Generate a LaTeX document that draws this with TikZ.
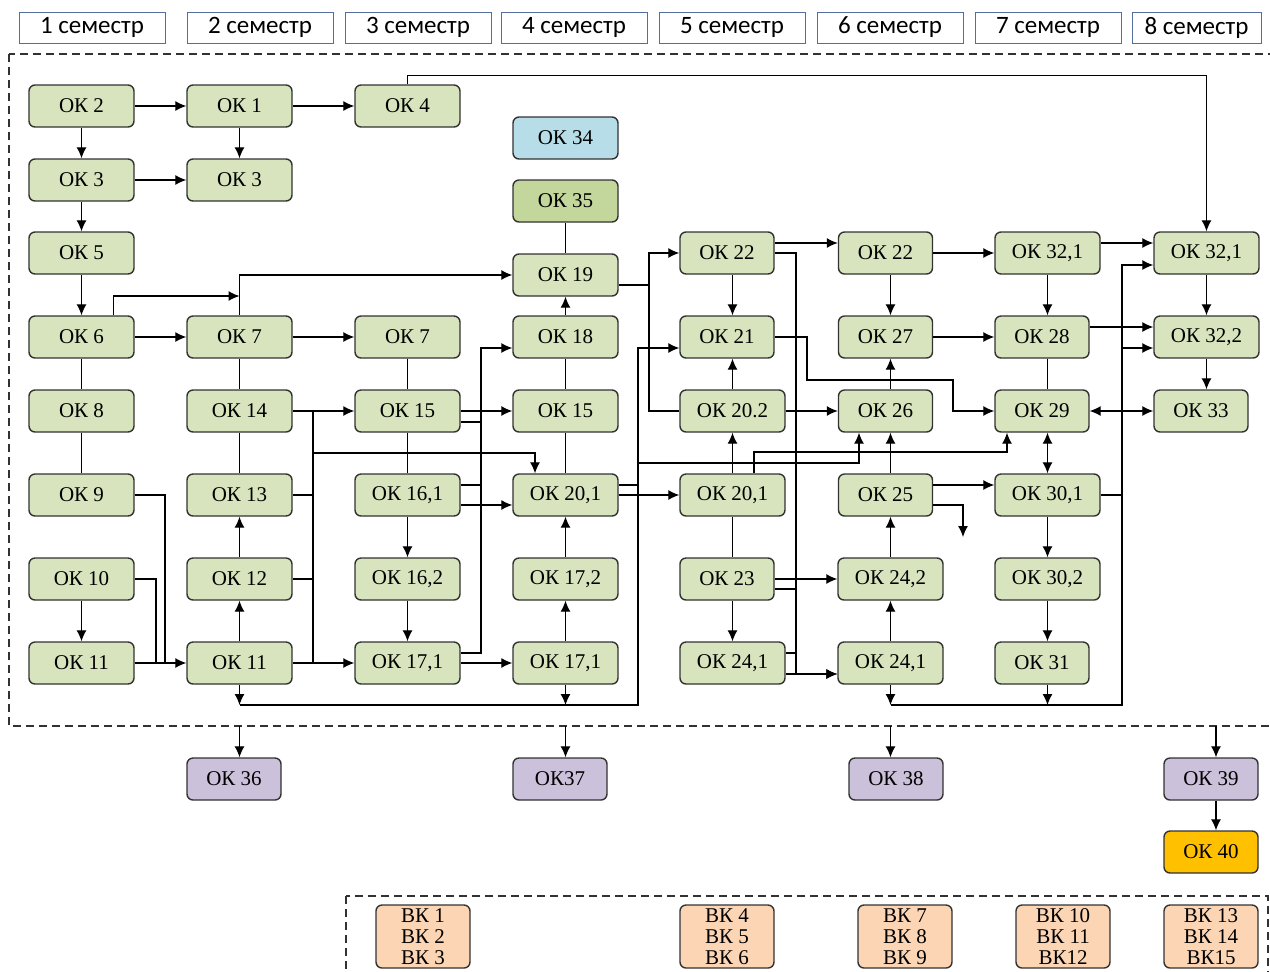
\documentclass[tikz,border=0pt]{standalone}
\usepackage{fontspec}
\usepackage{tikz}
\usetikzlibrary{arrows.meta}
\newfontfamily\okfont{Liberation Serif}
\newfontfamily\semfont{Carlito}
\definecolor{okgreen}{RGB}{215,228,189}
\definecolor{okolive}{RGB}{195,214,155}
\definecolor{okblue}{RGB}{183,222,232}
\definecolor{oklilac}{RGB}{204,193,218}
\definecolor{okorange}{RGB}{255,192,0}
\definecolor{vkpeach}{RGB}{252,213,181}
\definecolor{semblue}{RGB}{84,110,160}
\definecolor{boxline}{RGB}{50,50,50}
\tikzset{
    ok-box/.style = {draw=boxline, fill=okgreen, line width=0.7pt, rectangle, rounded corners=3pt, minimum width=52.5pt, minimum height=21pt, inner sep=0pt, font=\okfont\fontsize{10.5}{12}\selectfont},
    ok-narrow/.style = {ok-box, minimum width=47pt},
    sem-box/.style = {draw=semblue, fill=white, line width=0.5pt, rectangle, minimum width=73pt, minimum height=15.5pt, inner sep=0pt, font=\semfont\fontsize{12.5}{14}\selectfont},
    vk-box/.style = {ok-narrow, fill=vkpeach, minimum height=31.5pt, align=center, font=\okfont\fontsize{10.5}{10.6}\selectfont},
    dash-frame/.style = {draw=boxline, line width=0.6pt, dash pattern=on 4pt off 2.5pt},
}

\begin{document}
\begin{tikzpicture}[x=0.5pt, y=-0.5pt, >={Latex[length=5.5pt,width=5pt]}, line width=0.6pt]
\useasboundingbox (0,0) rectangle (1270,971);

\node [sem-box] (s1) at (92,27.5) {1 семестр};
\node [sem-box] (s2) at (260,27.5) {2 семестр};
\node [sem-box] (s3) at (418,27.5) {3 семестр};
\node [sem-box] (s4) at (574,27.5) {4 семестр};
\node [sem-box] (s5) at (732,27.5) {5 семестр};
\node [sem-box] (s6) at (890,27.5) {6 семестр};
\node [sem-box] (s7) at (1048,27.5) {7 семестр};
\node [sem-box, minimum width=64.5pt] (s8) at (1196.5,27.5) {8 семестр};

\draw [dash-frame] (9,54) rectangle (1290,726);
\draw [dash-frame] (346,896) rectangle (1268,990);
\coordinate (mainS) at (0,726);

% 1 semester
\node [ok-box] (ok2) at (81.5,106) {ОК 2};
\node [ok-box] (ok3a) at (81.5,180) {ОК 3};
\node [ok-box] (ok5) at (81.5,253) {ОК 5};
\node [ok-box] (ok6) at (81.5,337) {ОК 6};
\node [ok-box] (ok8) at (81.5,411) {ОК 8};
\node [ok-box] (ok9) at (81.5,495) {ОК 9};
\node [ok-box] (ok10) at (81.5,579) {ОК 10};
\node [ok-box] (ok11a) at (81.5,663) {ОК 11};
% 2 semester
\node [ok-box] (ok1) at (239.5,106) {ОК 1};
\node [ok-box] (ok3b) at (239.5,180) {ОК 3};
\node [ok-box] (ok7a) at (239.5,337) {ОК 7};
\node [ok-box] (ok14) at (239.5,411) {ОК 14};
\node [ok-box] (ok13) at (239.5,495) {ОК 13};
\node [ok-box] (ok12) at (239.5,579) {ОК 12};
\node [ok-box] (ok11b) at (239.5,663) {ОК 11};
% 3 semester
\node [ok-box] (ok4) at (407.5,106) {ОК 4};
\node [ok-box] (ok7b) at (407.5,337) {ОК 7};
\node [ok-box] (ok15a) at (407.5,411) {ОК 15};
\node [ok-box] (ok161) at (407.5,495) {ОК 16,1};
\node [ok-box] (ok162) at (407.5,579) {ОК 16,2};
\node [ok-box] (ok171a) at (407.5,663) {ОК 17,1};
% 4 semester
\node [ok-box, fill=okblue] (ok34) at (565.5,138) {ОК 34};
\node [ok-box, fill=okolive] (ok35) at (565.5,201) {ОК 35};
\node [ok-box] (ok19) at (565.5,275) {ОК 19};
\node [ok-box] (ok18) at (565.5,337) {ОК 18};
\node [ok-box] (ok15b) at (565.5,411) {ОК 15};
\node [ok-box] (ok201a) at (565.5,495) {ОК 20,1};
\node [ok-box] (ok172) at (565.5,579) {ОК 17,2};
\node [ok-box] (ok171b) at (565.5,663) {ОК 17,1};
% 5 semester
\node [ok-narrow] (ok22a) at (727,253) {ОК 22};
\node [ok-narrow] (ok21) at (727,337) {ОК 21};
\node [ok-box] (ok202) at (732.5,411) {ОК 20.2};
\node [ok-box] (ok201b) at (732.5,495) {ОК 20,1};
\node [ok-narrow] (ok23) at (727,579) {ОК 23};
\node [ok-box] (ok241a) at (732.5,663) {ОК 24,1};
% 6 semester
\node [ok-narrow] (ok22b) at (885.5,253) {ОК 22};
\node [ok-narrow] (ok27) at (885.5,337) {ОК 27};
\node [ok-narrow] (ok26) at (885.5,411) {ОК 26};
\node [ok-narrow] (ok25) at (885.5,495) {ОК 25};
\node [ok-box] (ok242) at (890.5,579) {ОК 24,2};
\node [ok-box] (ok241b) at (890.5,663) {ОК 24,1};
% 7 semester
\node [ok-box] (ok321a) at (1047.5,253) {ОК 32,1};
\node [ok-narrow] (ok28) at (1042,337) {ОК 28};
\node [ok-narrow] (ok29) at (1042,411) {ОК 29};
\node [ok-box] (ok301) at (1047.5,495) {ОК 30,1};
\node [ok-box] (ok302) at (1047.5,579) {ОК 30,2};
\node [ok-narrow] (ok31) at (1042,663) {ОК 31};
% 8 semester
\node [ok-box] (ok321b) at (1206.5,253) {ОК 32,1};
\node [ok-box] (ok322) at (1206.5,337) {ОК 32,2};
\node [ok-narrow] (ok33) at (1201,411) {ОК 33};

\node [ok-narrow, fill=oklilac] (ok36) at (234,779) {ОК 36};
\node [ok-narrow, fill=oklilac] (ok37) at (560,779) {ОК37};
\node [ok-narrow, fill=oklilac] (ok38) at (896,779) {ОК 38};
\node [ok-narrow, fill=oklilac] (ok39) at (1211,779) {ОК 39};
\node [ok-narrow, fill=okorange] (ok40) at (1211,852) {ОК 40};

\node [vk-box] (vk1) at (423,936.5) {ВК 1\\ВК 2\\ВК 3};
\node [vk-box] (vk4) at (727,936.5) {ВК 4\\ВК 5\\ВК 6};
\node [vk-box] (vk7) at (905,936.5) {ВК 7\\ВК 8\\ВК 9};
\node [vk-box] (vk10) at (1063,936.5) {ВК 10\\ВК 11\\ВК12};
\node [vk-box] (vk13) at (1211,936.5) {ВК 13\\ВК 14\\ВК15};

\coordinate (j7) at (239.5,296);
\coordinate (b9) at (165,663);
\coordinate (b10) at (156,663);
\coordinate (busT) at (313,411);
\coordinate (busB) at (313,663);
\coordinate (j453) at (313,453);
\coordinate (b18) at (481,348);
\coordinate (bl) at (239.5,705);
\coordinate (br) at (638,705);
\coordinate (b26) at (638,463);
\coordinate (b19) at (649,285);
\coordinate (b22) at (796,674);
\coordinate (b21) at (807,380);
\coordinate (c21) at (953,411);
\coordinate (b29) at (1007,452);
\coordinate (e25) at (963,537);
\coordinate (cl) at (890.5,705);
\coordinate (cr) at (1122,705);

\draw [->] (ok2) -- (ok1);
\draw [->] (ok1) -- (ok4);
\draw [->] (ok2) -- (ok3a);
\draw [->] (ok1) -- (ok3b);
\draw [->] (ok3a) -- (ok3b);
\draw [->] (ok3a) -- (ok5);
\draw [->] (ok5) -- (ok6);
\draw [->] (ok4.north) -- ++(0,-9) -| (ok321b.north);

\draw [->] (ok6) -- (ok7a);
\draw [->] (ok7a) -- (ok7b);
\draw [->] (ok7a.north) |- (ok19.west);
\draw [->] ([xshift=16pt]ok6.north) |- (j7);
\draw (ok6) -- (ok8);
\draw (ok8) -- (ok9);
\draw (ok7a) -- (ok14);
\draw (ok14) -- (ok13);
\draw [->] (ok10) -- (ok11a);
\draw (ok9.east) -| (b9);
\draw (ok10.east) -| (b10);
\draw [->] (ok11a) -- (ok11b);
\draw [->] (ok11b) -- (ok12);
\draw [->] (ok12) -- (ok13);

\draw [->] (ok14) -- (ok15a);
\draw (busT) -- (busB);
\draw (ok13.east) -- (ok13.east -| busT);
\draw (ok12.east) -- (ok12.east -| busT);
\draw [->] (ok11b) -- (ok171a);
\draw [->] (j453) -| ([xshift=-15.25pt]ok201a.north);

\draw (ok7b) -- (ok15a);
\draw (ok15a) -- (ok161);
\draw [->] (ok161) -- (ok162);
\draw [->] (ok162) -- (ok171a);
\draw [->] ([yshift=5pt]ok171a.east) -| (b18) -- (b18 -| ok18.west);
\draw ([yshift=-5.5pt]ok15a.east) -- ++(21,0);
\draw ([yshift=5pt]ok161.east) -- ++(21,0);
\draw [->] ([yshift=-5pt]ok161.east) -- ([yshift=-5pt]ok201a.west);
\draw [->] (ok15a) -- (ok15b);
\draw [->] (ok171a) -- (ok171b);

\draw (ok18) -- (ok15b);
\draw (ok15b) -- (ok201a);
\draw [->] (ok18) -- (ok19);
\draw (ok19) -- (ok35);
\draw [->] (ok171b) -- (ok172);
\draw [->] (ok172) -- (ok201a);

\draw [->] (ok11b) -- (bl);
\draw [->] (ok171b) -- (ok171b |- bl);
\draw [->] (bl) -- (br) |- ([yshift=-5.5pt]ok21.west);
\draw ([yshift=5pt]ok201a.east) -- ++(20,0);
\draw [->] (b26) -| ([xshift=-13.25pt]ok26.south);
\draw [->] (ok201a) -- (ok201b);

\draw [->] ([yshift=-5pt]ok19.east) -- (b19) |- (ok22a.west);
\draw (b19) |- (ok202.west);
\draw [->] (ok22a.south -| ok202) -- (ok21.north -| ok202);
\draw [->] (ok202) -- (ok21.south -| ok202);
\draw [->] (ok201b) -- (ok202);
\draw (ok201b) -- (ok201b.south |- ok23.north);
\draw [->] (ok23.south -| ok201b) -- (ok241a);
\draw [->] (ok202) -- (ok26);
\draw [->] ([xshift=10.75pt]ok201b.north) |- (b29) -- (b29 |- ok29.south);
\draw [->] ([yshift=5pt]ok22a.east) -- ([yshift=5pt]ok22b.west);
\draw [->] (ok22a.east) -| (b22) -- (b22 -| ok241b.west);
\draw [->] (ok23) -- (ok23 -| ok242.west);
\draw ([yshift=-5pt]ok23.east) -- ++(22,0);
\draw ([yshift=5pt]ok241a.east) -- ++(11,0);
\draw [->] ([yshift=-5.5pt]ok241a.east) -- ([yshift=-5.5pt]ok241b.west);
\draw [->] (ok21.east) -| (b21) -| (c21) -- (ok29.west);

\draw [->] (ok22b.south -| ok242) -- (ok27.north -| ok242);
\draw [->] (ok26.north -| ok242) -- (ok27.south -| ok242);
\draw [->] (ok25.north -| ok242) -- (ok26.south -| ok242);
\draw [->] (ok242) -- (ok25.south -| ok242);
\draw [->] (ok241b) -- (ok242);
\draw [->] (ok241b) -- (cl);
\draw [->] (ok22b) -- (ok321a);
\draw [->] (ok27) -- (ok28);
\draw [->] ([yshift=5pt]ok25.east) -- ([yshift=5pt]ok301.west);
\draw [->] ([yshift=-5pt]ok25.east) -| (e25);

\draw [->] (ok321a) -- (ok28.north -| ok321a);
\draw (ok28.south -| ok321a) -- (ok29.north -| ok321a);
\draw [<->] (ok29.south -| ok301) -- (ok301);
\draw [->] (ok301) -- (ok302);
\draw [->] (ok302) -- (ok31.north -| ok302);
\draw [->] (ok31.south -| ok302) -- (ok302 |- cl);
\draw [->] (cl) -- (cr) |- ([yshift=-6pt]ok321b.west);
\draw [->] ([yshift=-5.5pt]ok322.west -| cr) -- ([yshift=-5.5pt]ok322.west);
\draw (ok301.east) -- (ok301.east -| cr);
\draw [->] ([yshift=5pt]ok321a.east) -- ([yshift=5pt]ok321b.west);
\draw [->] ([yshift=5pt]ok28.east) -- ([yshift=5pt]ok322.west);
\draw [<->] (ok29) -- (ok33);
\draw [->] (ok321b) -- (ok322);
\draw [->] (ok322) -- (ok322 |- ok33.north);

\draw [->] (ok11b |- mainS) -- (ok11b |- ok36.north);
\draw [->] (ok171b |- mainS) -- (ok171b |- ok37.north);
\draw [->] (ok241b |- mainS) -- (ok241b |- ok38.north);
\draw [->] ([xshift=2.5pt]ok39.north |- mainS) -- ([xshift=2.5pt]ok39.north);
\draw [->] ([xshift=2.5pt]ok39.south) -- ([xshift=2.5pt]ok40.north);
\end{tikzpicture}
\end{document}
